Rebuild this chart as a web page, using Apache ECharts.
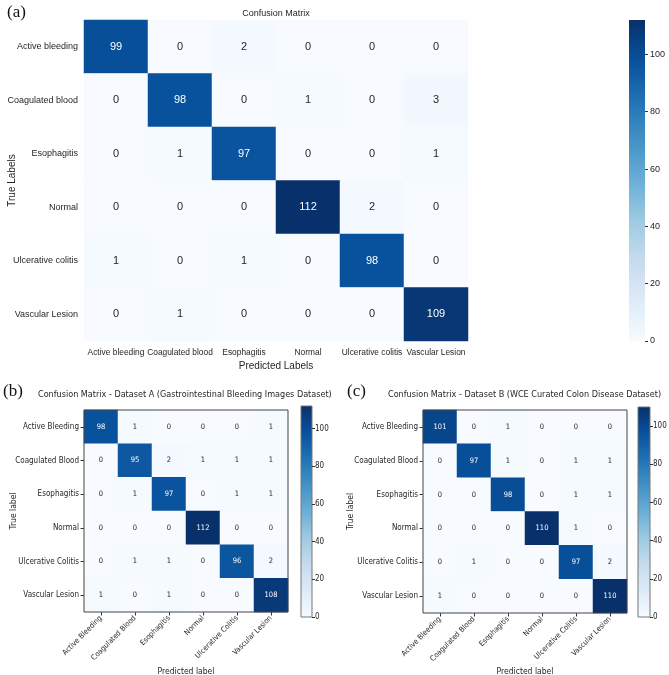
<!DOCTYPE html>
<html><head><meta charset="utf-8">
<script src="https://cdn.jsdelivr.net/npm/echarts@6/dist/echarts.min.js"></script>
<style>html,body{margin:0;padding:0;background:#fff}#c{width:669px;height:675px}</style>
</head><body><div id="c"></div>
<script>
// ---- data ----
const catsA = ['Active bleeding','Coagulated blood','Esophagitis','Normal','Ulcerative colitis','Vascular Lesion'];
const matrixA = [
  [99,0,2,0,0,0],
  [0,98,0,1,0,3],
  [0,1,97,0,0,1],
  [0,0,0,112,2,0],
  [1,0,1,0,98,0],
  [0,1,0,0,0,109]
];
const catsBC = ['Active Bleeding','Coagulated Blood','Esophagitis','Normal','Ulcerative Colitis','Vascular Lesion'];
const matrixB = [
  [98,1,0,0,0,1],
  [0,95,2,1,1,1],
  [0,1,97,0,1,1],
  [0,0,0,112,0,0],
  [0,1,1,0,96,2],
  [1,0,1,0,0,108]
];
const matrixC = [
  [101,0,1,0,0,0],
  [0,97,1,0,1,1],
  [0,0,98,0,1,1],
  [0,0,0,110,1,0],
  [0,1,0,0,97,2],
  [1,0,0,0,0,110]
];
const colorbarTicks = [0,20,40,60,80,100];
const titleA = 'Confusion Matrix';
const titleB = 'Confusion Matrix - Dataset A (Gastrointestinal Bleeding Images Dataset)';
const titleC = 'Confusion Matrix - Dataset B (WCE Curated Colon Disease Dataset)';

// ---- styles ----
const BLUES = ['#f7fbff','#deebf7','#c6dbef','#9ecae1','#6baed6','#4292c6','#2171b5','#08519c','#08306b'];
const FA = "'Liberation Sans',Arial,sans-serif";
const FB = "'DejaVu Sans Condensed','DejaVu Sans',sans-serif";
const SERIF = "'Liberation Serif','Times New Roman',serif";

function maxOf(m){ return Math.max.apply(null, m.flat()); }
function toData(m, dark){
  const mx = maxOf(m), out = [];
  m.forEach((row, r) => row.forEach((v, c) => {
    out.push({ value: [c, r, v], label: { color: v > mx / 2 ? '#ffffff' : dark } });
  }));
  return out;
}
const maxA = maxOf(matrixA), maxB = maxOf(matrixB), maxC = maxOf(matrixC);

// colorbar gradient (bottom = 0, top = max), same stops as the visualMap
const cbGradient = {
  type: 'linear', x: 0, y: 1, x2: 0, y2: 0,
  colorStops: BLUES.map((c, i) => ({ offset: i / (BLUES.length - 1), color: c }))
};

const base = { outerBoundsMode: 'none', containLabel: false };
const grids = [
  Object.assign({ left: 84, top: 20, width: 384, height: 321 }, base),
  Object.assign({ left: 629, top: 20, width: 16, height: 321, show: true, borderWidth: 0, borderColor: 'transparent', backgroundColor: cbGradient }, base),
  Object.assign({ left: 84, top: 410, width: 204, height: 202, show: true, borderColor: '#444', borderWidth: 1, backgroundColor: 'transparent', z: 10 }, base),
  Object.assign({ left: 301, top: 406, width: 11, height: 211, show: true, borderColor: '#777', borderWidth: 1, backgroundColor: cbGradient }, base),
  Object.assign({ left: 423, top: 410, width: 204, height: 203, show: true, borderColor: '#444', borderWidth: 1, backgroundColor: 'transparent', z: 10 }, base),
  Object.assign({ left: 638, top: 407, width: 12, height: 210, show: true, borderColor: '#777', borderWidth: 1, backgroundColor: cbGradient }, base)
];

function mainX(gi, cats, font, small, nameGap, name){
  return {
    gridIndex: gi, type: 'category', data: cats, position: 'bottom',
    name: name, nameLocation: 'middle', nameGap: nameGap, nameMoveOverlap: false,
    nameTextStyle: { fontFamily: font, fontSize: small ? 8.5 : 10, color: '#262626' },
    axisLine: { show: false },
    axisTick: small ? { show: true, alignWithLabel: true, length: 3.5, lineStyle: { color: '#333' } } : { show: false },
    splitLine: { show: false },
    axisLabel: small ? { interval: 0, rotate: 45, fontFamily: font, fontSize: 7.5, color: '#262626', margin: 5 }
                     : { interval: 0, fontFamily: font, fontSize: 8.4, color: '#262626', margin: 8 }
  };
}
function mainY(gi, cats, font, small, nameGap, name){
  return {
    gridIndex: gi, type: 'category', data: cats, inverse: true,
    name: name, nameLocation: 'middle', nameGap: nameGap, nameMoveOverlap: false,
    nameTextStyle: { fontFamily: font, fontSize: small ? 8.5 : 10, color: '#262626' },
    axisLine: { show: false },
    axisTick: small ? { show: true, alignWithLabel: true, length: 3.5, lineStyle: { color: '#333' } } : { show: false },
    splitLine: { show: false },
    axisLabel: { interval: 0, fontFamily: font, fontSize: small ? 8 : 9, color: '#262626', margin: small ? 5 : 6 }
  };
}
function cbX(gi){
  return { gridIndex: gi, type: 'value', min: 0, max: 1, show: false, position: 'top', offset: 2000 };
}
function cbY(gi, mx, font, fs, mg){
  return {
    gridIndex: gi, type: 'value', min: 0, max: mx, position: 'right',
    axisLine: { show: false, onZero: false }, splitLine: { show: false },
    axisTick: { show: true, length: 3, customValues: colorbarTicks, lineStyle: { color: '#333' } },
    axisLabel: { customValues: colorbarTicks, fontFamily: font, fontSize: fs, color: '#262626', margin: mg }
  };
}
function vm(si, mx){
  return { type: 'continuous', seriesIndex: si, min: 0, max: mx, show: false, inRange: { color: BLUES } };
}
function hm(xi, m, dark, fs, font){
  return {
    type: 'heatmap', xAxisIndex: xi, yAxisIndex: xi, data: toData(m, dark),
    label: { show: true, fontSize: fs, fontFamily: font, formatter: p => String(p.value[2]) },
    itemStyle: { borderWidth: 0 },
    emphasis: { disabled: true }
  };
}

const option = {
  animation: false,
  backgroundColor: '#ffffff',
  title: [
    { text: '(a)', left: 7, top: 4, padding: 0, textStyle: { fontFamily: SERIF, fontSize: 17, fontWeight: 'normal', color: '#111' } },
    { text: titleA, left: 276, top: 9, padding: 0, textAlign: 'center', textStyle: { fontFamily: FA, fontSize: 9, fontWeight: 'normal', color: '#262626' } },
    { text: '(b)', left: 3, top: 383, padding: 0, textStyle: { fontFamily: SERIF, fontSize: 17, fontWeight: 'normal', color: '#111' } },
    { text: titleB, left: 38, top: 390, padding: 0, textStyle: { fontFamily: FB, fontSize: 9, fontWeight: 'normal', color: '#262626' } },
    { text: '(c)', left: 347, top: 383, padding: 0, textStyle: { fontFamily: SERIF, fontSize: 17, fontWeight: 'normal', color: '#111' } },
    { text: titleC, left: 388, top: 390, padding: 0, textStyle: { fontFamily: FB, fontSize: 9, fontWeight: 'normal', color: '#262626' } }
  ],
  grid: grids,
  xAxis: [
    mainX(0, catsA, FA, false, 20, 'Predicted Labels'), cbX(1),
    mainX(2, catsBC, FB, true, 55, 'Predicted label'), cbX(3),
    mainX(4, catsBC, FB, true, 54, 'Predicted label'), cbX(5)
  ],
  yAxis: [
    mainY(0, catsA, FA, false, 67, 'True Labels'), cbY(1, maxA, FA, 9, 5),
    mainY(2, catsBC, FB, true, 66, 'True label'), cbY(3, maxB, FB, 8, 3),
    mainY(4, catsBC, FB, true, 68, 'True label'), cbY(5, maxC, FB, 8, 3)
  ],
  visualMap: [ vm(0, maxA), vm(1, maxB), vm(2, maxC) ],
  series: [
    hm(0, matrixA, '#262626', 11, FA),
    hm(2, matrixB, '#262626', 7.5, FB),
    hm(4, matrixC, '#262626', 7.5, FB)
  ]
};
const chart = echarts.init(document.getElementById('c'), null, { renderer: 'canvas' });
chart.setOption(option);
</script></body></html>
